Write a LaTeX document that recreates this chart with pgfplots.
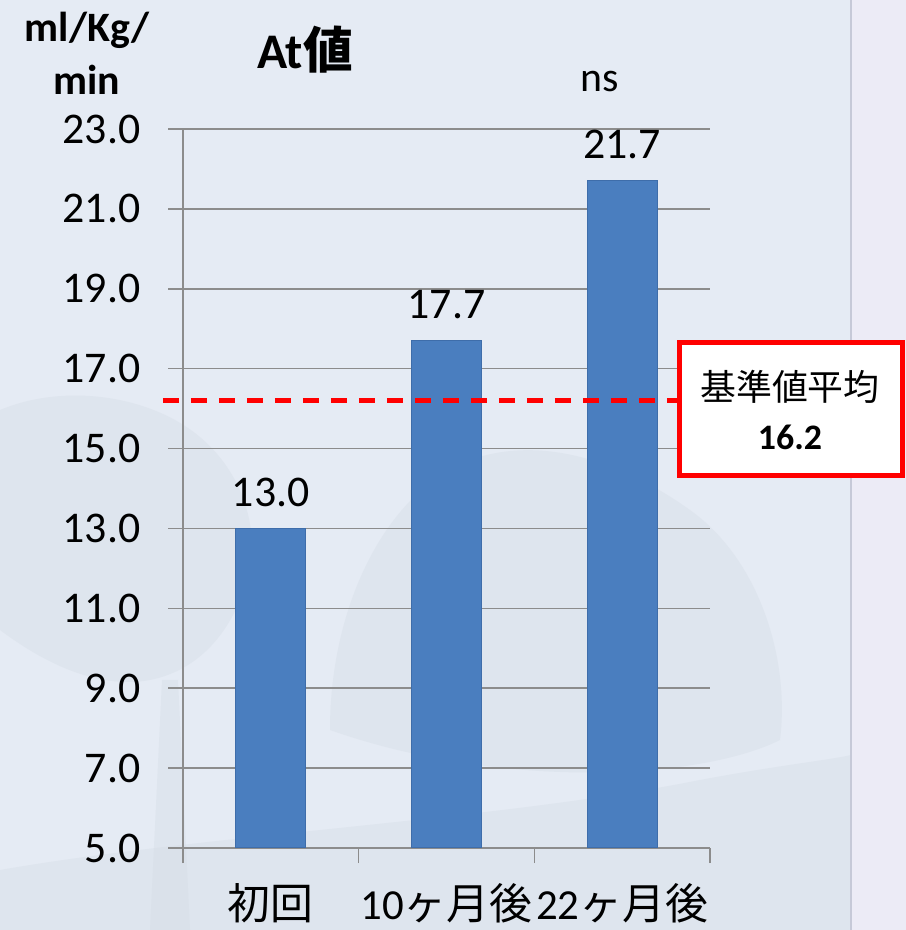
\documentclass[border=0pt]{standalone}
\usepackage{fontspec}
\setmainfont{Carlito}
\newfontfamily\cjk{Noto Sans CJK JP}
\usepackage{pgfplots}
\pgfplotsset{compat=1.18}

\definecolor{bg}{HTML}{E5EBF4}
\definecolor{tree}{HTML}{D3DAE3}
\definecolor{strip}{HTML}{ECEBF6}
\definecolor{stripline}{HTML}{C6C9D8}
\definecolor{barblue}{HTML}{4A7EBF}
\definecolor{baredge}{HTML}{3E6DAA}
\definecolor{gridgray}{HTML}{8C8C8C}

\begin{document}
\begin{tikzpicture}[x=1bp,y=1bp]
\path[use as bounding box] (0,0) rectangle (906,930);
\fill[bg] (0,0) rectangle (906,930);
% faint landscape in the backdrop
\begin{scope}[opacity=0.35]
  \fill[tree] (0,0) -- (0,60) .. controls (200,95) and (500,110) .. (700,150)
    .. controls (780,165) and (830,170) .. (851,175) -- (851,0) -- cycle;
  \fill[tree] (0,520) .. controls (60,545) and (130,535) .. (175,510)
    .. controls (230,480) and (260,420) .. (250,360)
    .. controls (235,300) and (200,260) .. (150,250)
    .. controls (95,240) and (40,270) .. (0,300) -- cycle;
  \fill[tree] (150,0) -- (162,250) -- (178,250) -- (190,0) -- cycle;
  \fill[tree] (330,200) .. controls (330,330) and (390,440) .. (470,470)
    .. controls (540,495) and (620,470) .. (690,420)
    .. controls (760,370) and (790,270) .. (780,190)
    .. controls (700,150) and (500,140) .. (330,200) -- cycle;
  \fill[tree] (590,100) -- (596,200) -- (612,200) -- (618,100) -- cycle;
\end{scope}
\fill[strip] (851,0) rectangle (906,930);
\draw[stripline, line width=2bp] (851,0) -- (851,930);

\begin{axis}[
  at={(183bp,82bp)}, anchor=south west,
  scale only axis, width=527bp, height=719bp,
  xmin=-0.5, xmax=2.5, ymin=5, ymax=23,
  clip=false,
  axis lines*=left,
  axis line style={gridgray, line width=1.5bp},
  ytick={5,7,...,23},
  ymajorgrids,
  grid style={gridgray, line width=1.5bp},
  tick align=outside,
  major tick length=15bp,
  tick style={gridgray, line width=1.5bp},
  xtick={-0.5,0.5,1.5,2.5},
  xticklabels={},
  extra x ticks={0,1,2},
  extra x tick labels={{\cjk 初回}, {10\cjk ヶ月後}, {22\cjk ヶ月後}},
  extra x tick style={major tick length=0pt, grid=none,
    tick label style={anchor=center, inner sep=0pt, yshift=-55bp}},
  x tick label style={font=\fontsize{43}{46}\selectfont},
  y tick label style={font=\fontsize{44}{48}\selectfont, anchor=east, xshift=-24bp},
  yticklabel={\pgfmathprintnumber[fixed,fixed zerofill,precision=1,assume math mode=true]{\tick}},
]
\addplot[ybar, bar width=0.4, fill=barblue, draw=baredge, line width=1bp,
  nodes near coords={\pgfmathprintnumber[fixed,fixed zerofill,precision=1,assume math mode=true]{\pgfplotspointmeta}},
  every node near coord/.append style={font=\fontsize{44}{48}\selectfont, text=black, anchor=center, yshift=36bp}]
  coordinates {(0,13.0) (1,17.7) (2,21.7)};
% reference mean
\addplot[red, line width=4.5bp, dash pattern=on 16bp off 12bp] coordinates {(-0.614,16.2) (2.35,16.2)};
\end{axis}

\draw[red, line width=4.5bp, fill=white] (679.5,454.5) rectangle (902.5,587.5);
\node[font=\cjk\fontsize{36}{40}\selectfont] at (790,543) {基準値平均};
\node[font=\bfseries\fontsize{36}{40}\selectfont] at (790,493) {16.2};

\node[font=\bfseries\fontsize{50}{56}\selectfont] at (305,880) {At{\cjk\bfseries 値}};
\node[font=\bfseries\fontsize{42}{46}\selectfont, anchor=base] at (87,888) {ml/Kg/};
\node[font=\bfseries\fontsize{42}{46}\selectfont, anchor=base] at (87,835) {min};
\node[font=\fontsize{42}{46}\selectfont] at (600,848) {ns};
\end{tikzpicture}
\end{document}
